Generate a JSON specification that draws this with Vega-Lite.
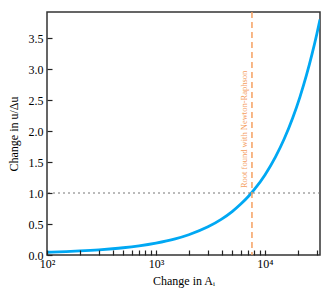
{
  "$schema": "https://vega.github.io/schema/vega-lite/v6.json",
  "width": 273,
  "height": 243,
  "autosize": {"type": "none"},
  "padding": {"left": 47, "top": 12, "right": 12, "bottom": 45},
  "background": "white",
  "config": {
    "font": "Liberation Serif",
    "view": {"stroke": "#333333", "strokeWidth": 1.5}
  },
  "datasets": {
    "curve": [
      {"A": 100, "r": 0.044},
      {"A": 150, "r": 0.055},
      {"A": 200, "r": 0.0655},
      {"A": 300, "r": 0.084},
      {"A": 400, "r": 0.101},
      {"A": 500, "r": 0.117},
      {"A": 700, "r": 0.148},
      {"A": 1000, "r": 0.192},
      {"A": 1500, "r": 0.26},
      {"A": 2000, "r": 0.327},
      {"A": 3000, "r": 0.454},
      {"A": 4000, "r": 0.578},
      {"A": 5000, "r": 0.7},
      {"A": 6000, "r": 0.821},
      {"A": 7000, "r": 0.94},
      {"A": 8000, "r": 1.058},
      {"A": 10000, "r": 1.292},
      {"A": 12500, "r": 1.583},
      {"A": 15000, "r": 1.871},
      {"A": 18000, "r": 2.214},
      {"A": 21000, "r": 2.556},
      {"A": 24000, "r": 2.896},
      {"A": 27000, "r": 3.236},
      {"A": 30000, "r": 3.574},
      {"A": 32000, "r": 3.799}
    ],
    "rootmark": [{"A": 7600, "r": 1.08, "label": "Root found with Newton-Raphson"}],
    "level": [{"r": 1.0}]
  },
  "layer": [
    {
      "data": {"name": "curve"},
      "mark": {"type": "line", "color": "#00A8F3", "strokeWidth": 2.8, "interpolate": "monotone", "clip": true},
      "encoding": {
        "x": {
          "field": "A",
          "type": "quantitative",
          "scale": {"type": "log", "domain": [100, 32000], "nice": false},
          "axis": {
            "title": "Change in Aᵢ",
            "values": [100, 200, 300, 400, 500, 600, 700, 800, 900, 1000, 2000, 3000, 4000, 5000, 6000, 7000, 8000, 9000, 10000, 20000, 30000],
            "labelExpr": "datum.value == 100 ? '10²' : datum.value == 1000 ? '10³' : datum.value == 10000 ? '10⁴' : ''",
            "zindex": 1,
            "domain": false,
            "grid": false,
            "ticks": true,
            "tickSize": -5,
            "tickWidth": 1.2,
            "tickColor": "#222222",
            "labelFont": "Liberation Serif",
            "labelFontSize": 12,
            "labelColor": "#000000",
            "labelOverlap": false,
            "labelPadding": 8,
            "labelFlush": false,
            "titleFont": "Liberation Serif",
            "titleFontSize": 12,
            "titleFontWeight": "normal",
            "titleColor": "#000000",
            "titlePadding": 6
          }
        },
        "y": {
          "field": "r",
          "type": "quantitative",
          "scale": {"domain": [0, 3.92], "nice": false, "zero": false},
          "axis": {
            "title": "Change in u/Δu",
            "tickCount": 8,
            "format": ".1f",
            "zindex": 1,
            "domain": false,
            "grid": false,
            "ticks": true,
            "tickSize": -5,
            "tickWidth": 1.2,
            "tickColor": "#222222",
            "labelFont": "Liberation Serif",
            "labelFontSize": 12,
            "labelColor": "#000000",
            "labelOverlap": false,
            "labelSeparation": 0,
            "labelPadding": 9,
            "labelFlush": false,
            "titleFont": "Liberation Serif",
            "titleFontSize": 12,
            "titleFontWeight": "normal",
            "titleColor": "#000000",
            "titlePadding": 8
          }
        }
      }
    },
    {
      "data": {"name": "level"},
      "mark": {"type": "rule", "color": "#777777", "strokeWidth": 1, "strokeDash": [2, 3]},
      "encoding": {
        "y": {"field": "r", "type": "quantitative"}
      }
    },
    {
      "data": {"name": "rootmark"},
      "mark": {"type": "rule", "color": "#F5A061", "strokeWidth": 1.5, "strokeDash": [6, 4]},
      "encoding": {
        "x": {"field": "A", "type": "quantitative"}
      }
    },
    {
      "data": {"name": "rootmark"},
      "mark": {"type": "text", "color": "#F5A061", "angle": 270, "align": "left", "baseline": "bottom", "fontSize": 8.5, "font": "Liberation Serif", "dy": -3},
      "encoding": {
        "x": {"field": "A", "type": "quantitative"},
        "y": {"field": "r", "type": "quantitative"},
        "text": {"field": "label"}
      }
    }
  ]
}
